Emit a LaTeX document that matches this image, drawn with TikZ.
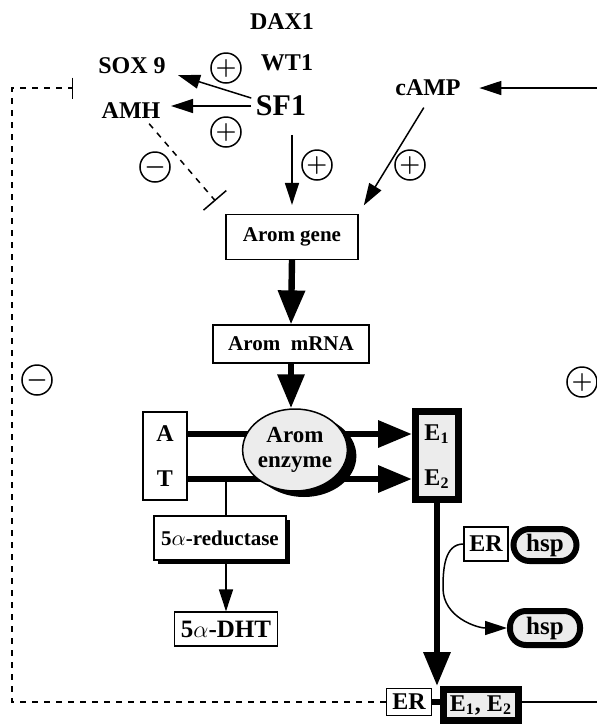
\documentclass[tikz,border=0pt]{standalone}
\usepackage{fontspec}
\setmainfont{Liberation Serif}
\usetikzlibrary{arrows.meta,shadows,shapes.geometric}

\newcommand{\txtsize}[1]{\fontsize{#1}{#1}\selectfont}

\begin{document}
\begin{tikzpicture}[x=0.5pt, y=-0.5pt, line width=0.75pt, inner sep=2pt,
    lbl/.style={font=\bfseries\txtsize{12}},
    box/.style={draw, line width=0.6pt, fill=white, font=\bfseries\txtsize{10.5}},
    heavy/.style={draw, line width=3.5pt, fill=gray!15, font=\bfseries\txtsize{12}},
    pill/.style={draw, line width=3pt, rounded corners=8pt, fill=gray!15,
      font=\bfseries\txtsize{12.5}},
    sign/.style={draw, circle, minimum size=15pt, inner sep=0pt, font=\large\boldmath},
    arr/.style={-{Triangle[length=11pt,width=7pt]}},
    bigarr/.style={line width=3.2pt, -{Triangle[length=17pt,width=13pt]}},
    inhib/.style={dashed, -{Bar[width=#1]}}]
  \useasboundingbox (0,0) rectangle (597,725);

  % regulators of the gene
  \node (DAX) [lbl] at (282,22) {DAX1};
  \node (WT) [lbl] at (287,63) {WT1};
  \node (SF) [lbl, font=\bfseries\txtsize{15}] at (281,106) {SF1};
  \node (SOX) [lbl] at (132,66) {SOX 9};
  \node (AMH) [lbl] at (131,111) {AMH};
  \node (CAMP) [lbl] at (428,88) {cAMP};
  \coordinate (RIN) at (597,88);

  \node (P1) [sign] at (226,68) {$+$};
  \node (P2) [sign] at (226,132) {$+$};
  \node (M1) [sign] at (155,167) {$-$};
  \node (P3) [sign] at (317,165) {$+$};
  \node (P4) [sign] at (410,165) {$+$};

  \node (GENE) [box, minimum width=66pt, minimum height=22.5pt] at (292,237) {Arom gene};
  \node (MRNA) [box, minimum width=78pt, minimum height=19pt] at (291,344) {Arom\enspace mRNA};

  \draw[arr, shorten >=4pt] (SF.165) -- (SOX.-10);
  \draw[arr, shorten >=3pt] (SF.west) -- (SF.west -| AMH.east);
  \draw[arr, shorten <=7pt, shorten >=4.5pt] (SF.south -| GENE.north) -- (GENE.north);
  \draw[arr, shorten <=4pt, shorten >=5pt] (CAMP.south) -- (GENE.north east);
  \draw[arr, shorten >=7pt] (RIN) -- (CAMP.east);
  \draw[inhib=15pt] (AMH.-35) -- ([shift={(-10,-13)}]GENE.north west);
  \draw[bigarr] (GENE.south) -- (MRNA.north);

  % substrates, enzyme and products
  \node (AT) [box, minimum width=22pt, minimum height=44pt] at (165,456) {};
  \node (A) [lbl] at (165,434) {A};
  \node (T) [lbl] at (165,479) {T};
  \node (EB) [heavy, minimum width=21.5pt, minimum height=44pt] at (437,455) {};
  \node (E1) [lbl] at (437,434) {E\textsubscript{1}};
  \node (E2) [lbl] at (437,479) {E\textsubscript{2}};
  \draw[bigarr] (A -| AT.east) -- (A -| EB.west);
  \draw[bigarr] (T -| AT.east) -- (T -| EB.west);

  \node (ENZ) [ellipse, draw, fill=gray!15, minimum width=48pt, minimum height=41pt,
    inner sep=0pt, align=center, font=\bfseries\txtsize{11.5},
    drop shadow={shadow xshift=4.5pt, shadow yshift=-3pt, opacity=1, fill=black}]
    at (295,450) {Arom\\[1pt]enzyme};
  \draw[bigarr] (MRNA.south) -- (MRNA.south |- ENZ.north);

  \node (RED) [box, minimum width=66pt, minimum height=22pt,
    drop shadow={shadow xshift=2pt, shadow yshift=-2pt, opacity=1, fill=black}]
    at (220,538) {5$\alpha$-reductase};
  \node (DHT) [box, minimum width=51.5pt, minimum height=17pt, font=\bfseries\txtsize{12.5}]
    at (226,629) {5$\alpha$-DHT};
  \draw (DHT.north |- T) -- (DHT.north |- RED.north);
  \draw[arr] (DHT.north |- RED.south) -- (DHT.north);

  % receptor
  \node (ER1) [box, minimum width=22pt, minimum height=17pt, font=\bfseries\txtsize{12}] at (486,544) {ER};
  \node (HSP1) [pill, minimum width=31.5pt, minimum height=16pt] at (545,545) {hsp};
  \node (HSP2) [pill, minimum width=35pt, minimum height=17pt] at (545,628) {hsp};
  \coordinate (BEND) at (443,588);
  \draw[arr] (ER1.west) to[out=180, in=90] (BEND) to[out=-90, in=180] (HSP2.west);

  \node (ER2) [box, minimum width=22.5pt, minimum height=13.5pt, font=\bfseries\txtsize{12}] at (409,702) {ER};
  \node (EC) [heavy, minimum width=37.5pt, minimum height=15.5pt] at (481,705) {E\textsubscript{1}, E\textsubscript{2}};
  \draw[line width=3pt] (ER2.east) -- (ER2.east -| EC.west);
  \draw[bigarr] (EB.south) -- (EB.south |- EC.north);
  \coordinate (ROUT) at (597,702);
  \draw (EC.east |- ROUT) -- (ROUT);

  % feedback
  \coordinate (LX) at (12,88);
  \coordinate (SOXBAR) at (73,88);
  \draw[inhib=10.5pt] (ER2.west) -| (LX) -- (SOXBAR);
  \node (M2) [sign] at (37,380) {$-$};
  \node (P5) [sign] at (582,382) {$+$};
\end{tikzpicture}
\end{document}
